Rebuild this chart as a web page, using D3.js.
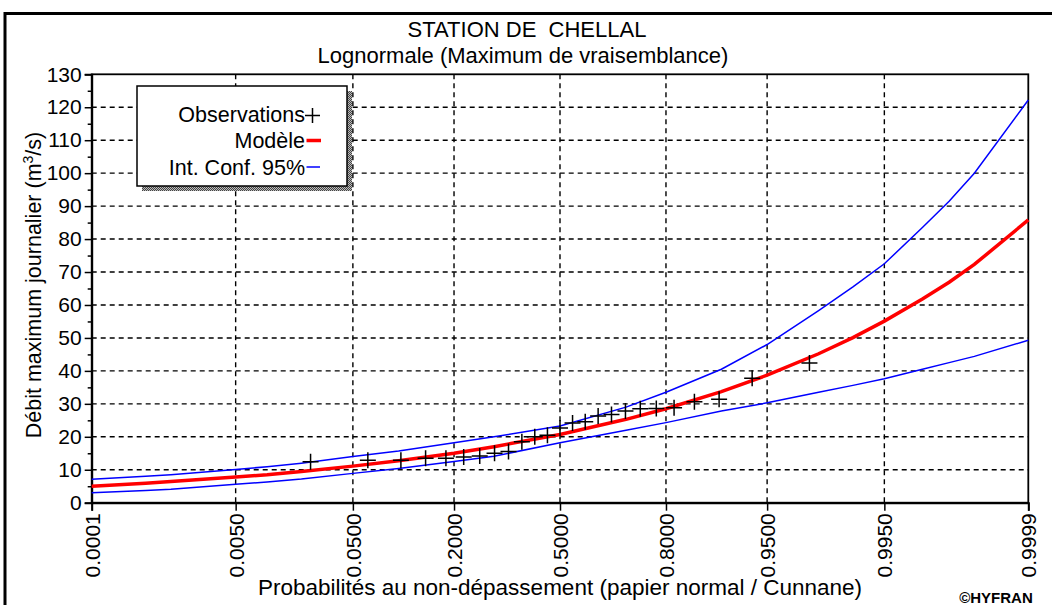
<!DOCTYPE html>
<html>
<head>
<meta charset="utf-8">
<script src="https://cdn.jsdelivr.net/npm/d3@7"></script>
<style>
  body { margin: 0; background: #fff; }
  svg { display: block; font-family: "Liberation Sans", Arial, sans-serif; }
</style>
</head>
<body>
<svg id="chart" width="1052" height="605"></svg>
<script>
// Lognormal fit, station de Chellal, plotted on normal probability paper
(function() {
  'use strict';

  const probTicks = [0.0001, 0.005, 0.05, 0.2, 0.5, 0.8, 0.95, 0.995, 0.9999];
  const probTickLabels = ['0.0001', '0.0050', '0.0500', '0.2000', '0.5000', '0.8000', '0.9500', '0.9950', '0.9999'];

  // observations (Cunnane plotting positions)
  const obsProb = [0.0238, 0.0635, 0.1032, 0.1429, 0.1825, 0.2222, 0.2619, 0.3016, 0.3413, 0.3810,
                   0.4206, 0.4603, 0.5000, 0.5397, 0.5794, 0.6190, 0.6587, 0.6984, 0.7381, 0.7778,
                   0.8175, 0.8571, 0.8968, 0.9365, 0.9762];
  const obsValue = [12.4, 12.9, 12.9, 13.5, 13.5, 13.9, 14.2, 15.0, 15.5, 18.5,
                    20.0, 20.5, 22.7, 24.2, 24.6, 26.3, 26.8, 27.8, 28.5, 28.6,
                    28.8, 30.6, 31.4, 37.8, 42.4];

  // model curve and 95% confidence band
  const curveProb = [0.0001, 0.0005, 0.001, 0.005, 0.01, 0.02, 0.05, 0.1, 0.2, 0.3, 0.5,
                     0.7, 0.8, 0.9, 0.95, 0.98, 0.99, 0.995, 0.998, 0.999, 0.9995, 0.9999];
  const modelValue = [5.0, 5.9, 6.4, 7.8, 8.5, 9.5, 11.1, 12.7, 15.0, 17.0, 20.7,
                      25.3, 28.5, 33.7, 38.7, 45.2, 50.1, 55.1, 61.8, 66.9, 72.3, 85.8];
  const upperValue = [7.1, 8.0, 8.5, 10.1, 10.9, 12.0, 14.0, 15.7, 18.2, 20.0, 23.3,
                      29.0, 33.5, 40.5, 48.0, 58.3, 65.5, 72.5, 83.5, 91.5, 100.0, 122.2];
  const lowerValue = [3.0, 3.7, 4.1, 5.6, 6.3, 7.2, 8.9, 10.4, 12.5, 14.1, 18.2,
                      22.0, 24.3, 27.8, 30.3, 33.5, 35.6, 37.6, 40.5, 42.5, 44.4, 49.3];

  const yTicks = d3.range(0, 131, 10);
  const yMinorTicks = d3.range(5, 130, 10);

  // inverse normal cdf (Acklam) -> position on normal paper
  function probit(p) {
    const a = [-39.69683028665376, 220.9460984245205, -275.9285104469687, 138.3577518672690, -30.66479806614716, 2.506628277459239];
    const b = [-54.47609879822406, 161.5858368580409, -155.6989798598866, 66.80131188771972, -13.28068155288572];
    const c = [-0.007784894002430293, -0.3223964580411365, -2.400758277161838, -2.549732539343734, 4.374664141464968, 2.938163982698783];
    const d = [0.007784695709041462, 0.3224671290700398, 2.445134137142996, 3.754408661907416];
    const pl = 0.02425;
    let q, r;
    if (p < pl) {
      q = Math.sqrt(-2 * Math.log(p));
      return (((((c[0]*q + c[1])*q + c[2])*q + c[3])*q + c[4])*q + c[5]) / ((((d[0]*q + d[1])*q + d[2])*q + d[3])*q + 1);
    }
    if (p > 1 - pl) {
      q = Math.sqrt(-2 * Math.log(1 - p));
      return -(((((c[0]*q + c[1])*q + c[2])*q + c[3])*q + c[4])*q + c[5]) / ((((d[0]*q + d[1])*q + d[2])*q + d[3])*q + 1);
    }
    q = p - 0.5; r = q * q;
    return (((((a[0]*r + a[1])*r + a[2])*r + a[3])*r + a[4])*r + a[5]) * q / (((((b[0]*r + b[1])*r + b[2])*r + b[3])*r + b[4])*r + 1);
  }

  const svg = d3.select('#chart');
  const pLeft = 91.7, pRight = 1028.3, pTop = 74.3, pBottom = 502.7;

  const x = d3.scaleLinear().domain([probit(0.0001), probit(0.9999)]).range([pLeft, pRight]);
  const y = d3.scaleLinear().domain([0, 130]).range([pBottom, pTop]);

  // outer frame
  svg.append('rect')
    .attr('x', 5).attr('y', 13.5).attr('width', 1100).attr('height', 700)
    .attr('fill', '#fff').attr('stroke', '#000').attr('stroke-width', 3);

  // titles
  svg.append('text').attr('x', 527).attr('y', 37).attr('text-anchor', 'middle')
    .attr('font-size', 22).text('STATION DE\u00a0\u00a0CHELLAL');
  svg.append('text').attr('x', 523).attr('y', 63).attr('text-anchor', 'middle')
    .attr('font-size', 22).text('Lognormale (Maximum de vraisemblance)');

  // grid
  const grid = svg.append('g').attr('stroke', '#000').attr('stroke-width', 1.4).attr('stroke-dasharray', '5,4');
  grid.selectAll('line.h').data(yTicks.filter(v => v > 0 && v < 130)).join('line').attr('class', 'h')
    .attr('x1', pLeft).attr('x2', pRight).attr('y1', d => y(d)).attr('y2', d => y(d));
  grid.selectAll('line.v').data(probTicks.slice(1, -1)).join('line').attr('class', 'v')
    .attr('x1', d => x(probit(d))).attr('x2', d => x(probit(d))).attr('y1', pTop).attr('y2', pBottom);

  // plot border
  svg.append('rect').attr('x', pLeft).attr('y', pTop).attr('width', pRight - pLeft).attr('height', pBottom - pTop)
    .attr('fill', 'none').attr('stroke', '#000').attr('stroke-width', 1.8);

  // y axis
  const yAxis = svg.append('g').attr('transform', `translate(${pLeft},0)`)
    .call(d3.axisLeft(y).tickValues(yTicks).tickSize(7).tickPadding(3));
  yAxis.select('.domain').attr('stroke-width', 2);
  yAxis.selectAll('line').attr('stroke-width', 1.5);
  yAxis.selectAll('text').attr('font-size', 21).attr('font-family', '"Liberation Sans", Arial, sans-serif').attr('fill', '#000');
  svg.append('g').attr('transform', `translate(${pLeft},0)`)
    .call(d3.axisLeft(y).tickValues(yMinorTicks).tickSize(4).tickFormat(''))
    .call(g => g.select('.domain').remove())
    .selectAll('line').attr('stroke-width', 1.5);

  // x axis
  const xAxis = svg.append('g').attr('transform', `translate(0,${pBottom})`)
    .call(d3.axisBottom(x).tickValues(probTicks.map(probit)).tickSize(8)
      .tickFormat((d, i) => probTickLabels[i]));
  xAxis.select('.domain').attr('stroke-width', 2);
  xAxis.selectAll('line').attr('stroke-width', 1.5);
  xAxis.selectAll('text')
    .attr('font-size', 21).attr('font-family', '"Liberation Sans", Arial, sans-serif').attr('fill', '#000')
    .attr('transform', 'rotate(-90)')
    .attr('text-anchor', 'end')
    .attr('x', -10.5).attr('y', 0).attr('dy', '0.36em');

  // axis titles
  const yTitle = svg.append('text').attr('transform', 'translate(41,285) rotate(-90)')
    .attr('text-anchor', 'middle').attr('font-size', 21.5);
  yTitle.append('tspan').text('Débit maximum journalier (m');
  yTitle.append('tspan').attr('font-size', 14).attr('dy', -8).text('3');
  yTitle.append('tspan').attr('dy', 8).text('/s)');

  svg.append('text').attr('x', 560).attr('y', 595).attr('text-anchor', 'middle')
    .attr('font-size', 22.5).text('Probabilités au non-dépassement (papier normal / Cunnane)');

  svg.append('text').attr('x', 996).attr('y', 603).attr('text-anchor', 'middle')
    .attr('font-size', 15).attr('font-weight', 'bold').text('©HYFRAN');

  // curves
  const pts = vals => curveProb.map((p, i) => [x(probit(p)), y(vals[i])]);
  const line = d3.line();

  svg.append('path').attr('d', line(pts(upperValue))).attr('fill', 'none').attr('stroke', '#0000ff').attr('stroke-width', 1.5);
  svg.append('path').attr('d', line(pts(lowerValue))).attr('fill', 'none').attr('stroke', '#0000ff').attr('stroke-width', 1.5);
  svg.append('path').attr('d', line(pts(modelValue))).attr('fill', 'none').attr('stroke', '#ff0000').attr('stroke-width', 3.5);

  // observations
  const cross = 8;
  const obs = svg.append('g').attr('stroke', '#000').attr('stroke-width', 1.5);
  obs.selectAll('path').data(obsProb.map((p, i) => [x(probit(p)), y(obsValue[i])])).join('path')
    .attr('d', d => `M${d[0] - cross},${d[1]}H${d[0] + cross}M${d[0]},${d[1] - cross}V${d[1] + cross}`);

  // legend
  const defs = svg.append('defs');
  const pat = defs.append('pattern').attr('id', 'shade').attr('width', 2).attr('height', 2).attr('patternUnits', 'userSpaceOnUse');
  pat.append('rect').attr('width', 2).attr('height', 2).attr('fill', '#bbb');
  pat.append('rect').attr('width', 1).attr('height', 1).attr('fill', '#444');
  pat.append('rect').attr('x', 1).attr('y', 1).attr('width', 1).attr('height', 1).attr('fill', '#444');

  const lg = svg.append('g');
  lg.append('rect').attr('x', 142).attr('y', 91).attr('width', 210).attr('height', 100).attr('fill', 'url(#shade)');
  lg.append('rect').attr('x', 137).attr('y', 86).attr('width', 210).attr('height', 100)
    .attr('fill', '#fff').attr('stroke', '#000').attr('stroke-width', 1.5);

  const legendItems = ['Observations', 'Modèle', 'Int. Conf. 95%'];
  const legendY = [121.7, 148.3, 175];
  lg.selectAll('text').data(legendItems).join('text')
    .attr('x', 305).attr('y', (d, i) => legendY[i]).attr('text-anchor', 'end')
    .attr('font-size', 21.5).text(d => d);
  lg.append('path').attr('d', 'M305,115.5H320M312.5,108V123').attr('stroke', '#000').attr('stroke-width', 1.5);
  lg.append('line').attr('x1', 306.5).attr('x2', 321).attr('y1', 140.5).attr('y2', 140.5).attr('stroke', '#ff0000').attr('stroke-width', 3.5);
  lg.append('line').attr('x1', 306.5).attr('x2', 320).attr('y1', 167).attr('y2', 167).attr('stroke', '#0000ff').attr('stroke-width', 1.5);
})();
</script>
</body>
</html>
